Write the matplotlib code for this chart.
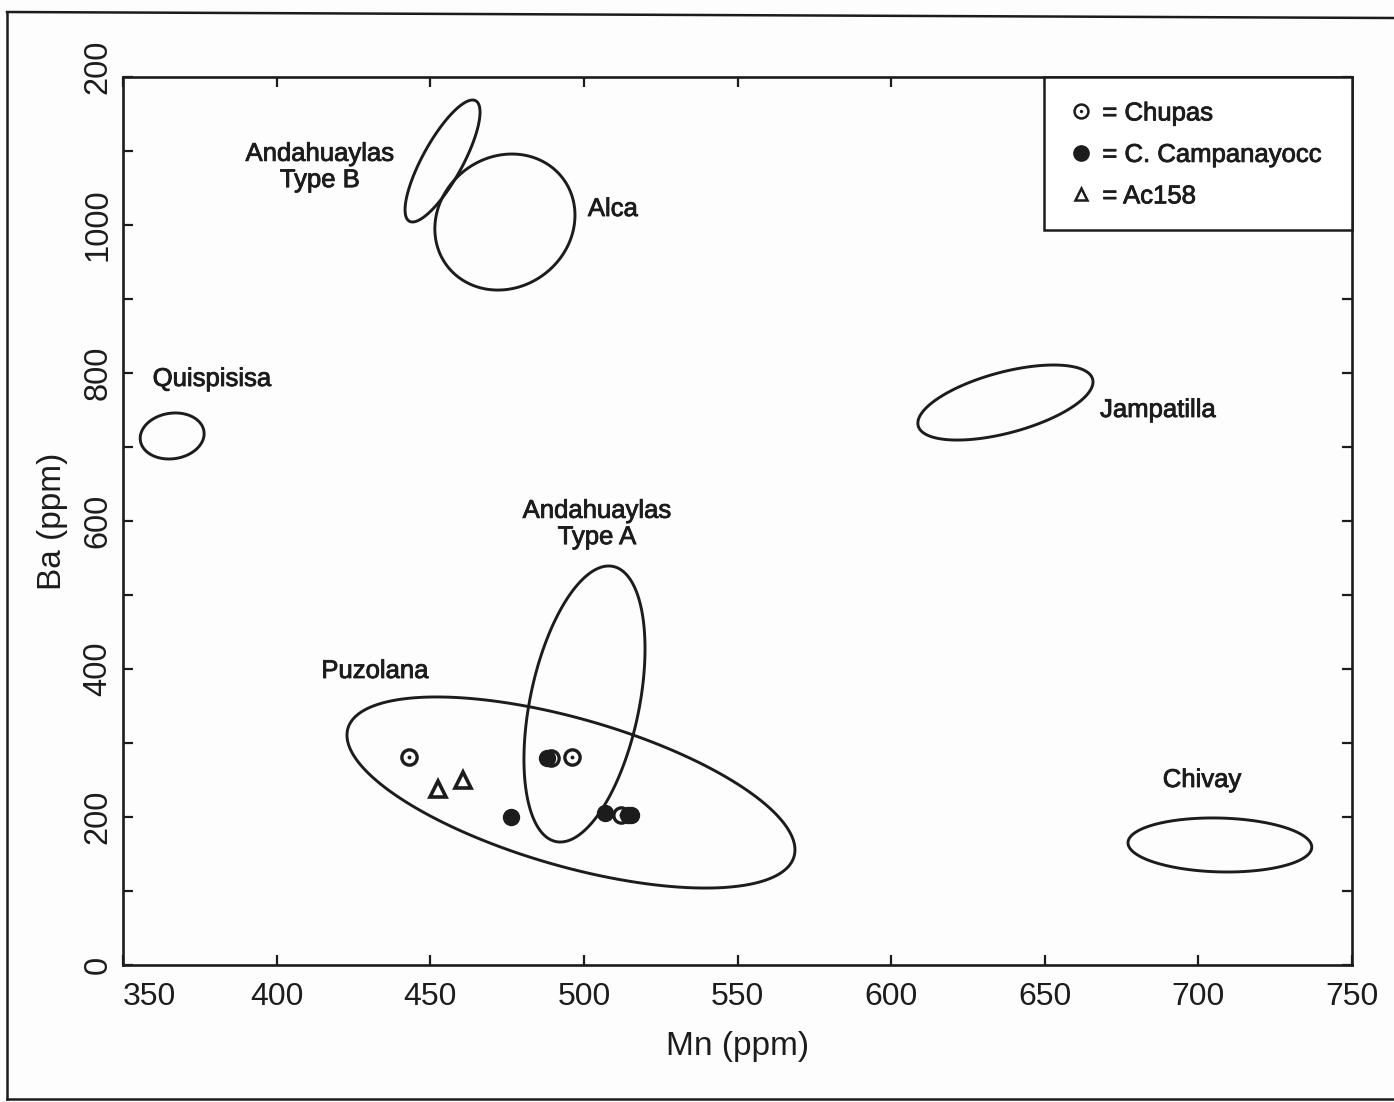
import numpy as np
import matplotlib
matplotlib.use("Agg")
import matplotlib.pyplot as plt
from matplotlib.lines import Line2D
from matplotlib.patches import Rectangle, Polygon
from matplotlib.legend_handler import HandlerTuple
import matplotlib.transforms as mtransforms
import matplotlib.patheffects as pe

plt.rcParams['font.family'] = ['Liberation Sans', 'DejaVu Sans']

INK = '#1c1c1c'
BOLDEN = [pe.withStroke(linewidth=0.6, foreground=INK)]

# Sample analyses (Mn ppm, Ba ppm)
chupas_mn = [443.1, 489.3, 496.1, 512.1]
chupas_ba = [281.5, 280.0, 281.0, 202.7]

campanayocc_mn = [488.0, 476.3, 506.9, 514.4, 515.2]
campanayocc_ba = [280.0, 200.0, 205.4, 202.7, 202.7]

ac158_mn = [452.4, 460.8]
ac158_ba = [237.4, 250.0]

# Source fields: centre, half-ranges and Mn-Ba correlation of each ellipse
field_names = ['Andahuaylas Type B', 'Alca', 'Quispisisa', 'Jampatilla',
               'Chivay', 'Andahuaylas Type A', 'Puzolana']
field_mn = [454.0, 474.3, 366.0, 637.2, 707.0, 500.2, 495.8]
field_ba = [1086.5, 1004.0, 714.9, 760.1, 162.2, 352.7, 233.1]
field_sd_mn = [12.2, 22.8, 10.4, 28.5, 29.9, 19.7, 72.9]
field_sd_ba = [82.4, 91.9, 31.1, 50.7, 36.5, 186.5, 129.1]
field_rho = [0.80, 0.10, 0.10, 0.55, -0.08, 0.40, -0.60]

# Field labels
label_text = ['Andahuaylas\nType B', 'Alca', 'Quispisisa', 'Jampatilla',
              'Chivay', 'Andahuaylas\nType A', 'Puzolana']
label_mn = [414.1, 501.3, 379.0, 668.0, 701.2, 504.3, 432.0]
label_ba = [1078.4, 1021.6, 791.9, 750.0, 250.0, 596.0, 397.3]
label_ha = ['center', 'left', 'center', 'left', 'center', 'center', 'center']

x_ticks = [350, 400, 450, 500, 550, 600, 650, 700, 750]
y_ticks = [0, 200, 400, 600, 800, 1000, 1200]
y_ticklabels = ['0', '200', '400', '600', '800', '1000', '200']

legend_labels = ['= Chupas', '= C. Campanayocc', '= Ac158']

W, H = 1394, 1102
fig = plt.figure(figsize=(W / 100, H / 100), dpi=100)
fig.patch.set_facecolor('#fdfdfd')
ax = fig.add_axes([123 / W, 1 - 965 / H, (1352 - 123) / W, (965 - 77) / H])
ax.set_facecolor('none')

ax.set_xlim(350, 750)
ax.set_ylim(0, 1200)

# Ellipses drawn as closed outlines
t = np.linspace(0, 2 * np.pi, 400, endpoint=False)
for cx, cy, sx, sy, r in zip(field_mn, field_ba, field_sd_mn, field_sd_ba, field_rho):
    ex = cx + sx * np.cos(t)
    ey = cy + sy * (r * np.cos(t) + np.sqrt(1 - r * r) * np.sin(t))
    ax.add_patch(Polygon(np.column_stack([ex, ey]), closed=True, fill=False,
                         edgecolor=INK, lw=2.1, joinstyle='round', zorder=2))

for txt, x, y, ha in zip(label_text, label_mn, label_ba, label_ha):
    ax.text(x, y, txt, ha=ha, va='center', fontsize=18.5, color=INK,
            linespacing=1.12, zorder=3, path_effects=BOLDEN)

# Points
ms = 11
ax.plot(chupas_mn, chupas_ba, ls='none', marker='o', ms=ms, mfc='white',
        mec=INK, mew=2.4, zorder=4)
ax.plot(chupas_mn, chupas_ba, ls='none', marker='o', ms=2.8, mfc=INK,
        mec=INK, mew=0, zorder=4)
ax.plot(campanayocc_mn, campanayocc_ba, ls='none', marker='o', ms=ms + 0.5,
        mfc=INK, mec=INK, zorder=5)
ax.plot(ac158_mn, ac158_ba, ls='none', marker='^', ms=ms, mfc='white',
        mec=INK, mew=2.6, zorder=4)

# Legend box (framed separately so it sits flush with the top-right corner)
box_x0 = (1044 - 123) / (1352 - 123)
box_y0 = (965 - 230) / (965 - 77)
ax.add_patch(Rectangle((box_x0, box_y0), 1 - box_x0, 1 - box_y0,
                       transform=ax.transAxes, facecolor='white',
                       edgecolor=INK, lw=1.8, zorder=6, clip_on=False))

lh_ch = Line2D([], [], ls='none', marker='o', ms=10, mfc='white', mec=INK, mew=1.8)
lh_chd = Line2D([], [], ls='none', marker='o', ms=2.4, mfc=INK, mec=INK, mew=0)
lh_ca = Line2D([], [], ls='none', marker='o', ms=11, mfc=INK, mec=INK)
lh_ac = Line2D([], [], ls='none', marker='^', ms=9, mfc='white', mec=INK, mew=1.8)
leg = ax.legend([(lh_ch, lh_chd), lh_ca, lh_ac], legend_labels,
                handler_map={tuple: HandlerTuple(ndivide=1)},
                loc='upper left', bbox_to_anchor=(box_x0, 1.0),
                borderaxespad=0, frameon=False, fontsize=18.5,
                handlelength=1.0, handletextpad=0.32, labelspacing=0.68,
                borderpad=0.95)
leg.set_zorder(7)
for tx in leg.get_texts():
    tx.set_color(INK)
    tx.set_path_effects(BOLDEN)

# Axes styling
for sp in ax.spines.values():
    sp.set_linewidth(1.9)
    sp.set_color(INK)

ax.set_xticks(x_ticks)
ax.set_xticklabels([str(v) for v in x_ticks])
ax.set_yticks(y_ticks)
ax.set_yticks(np.arange(100, 1200, 200), minor=True)
ax.set_yticklabels(y_ticklabels, rotation=90, va='center')
ax.tick_params(axis='both', which='both', direction='in', top=True, right=True,
               length=7.5, width=1.6, color=INK)
ax.tick_params(axis='x', labelsize=23, pad=12, labelcolor=INK)
ax.tick_params(axis='y', labelsize=23.5, pad=7, labelcolor=INK)

xl = ax.get_xticklabels()
xl[0].set_horizontalalignment('left')

yl = ax.get_yticklabels()
yl[-1].set_transform(yl[-1].get_transform() +
                     mtransforms.ScaledTranslation(0, 0.10, fig.dpi_scale_trans))

ax.set_xlabel('Mn (ppm)', fontsize=24, color=INK, labelpad=14)
ax.set_ylabel('Ba (ppm)', fontsize=24, color=INK, labelpad=10)

# Outer frame
frame_kw = dict(color=INK, lw=1.8, transform=fig.transFigure, clip_on=False)
fig.add_artist(Line2D([7 / W, 7 / W], [1 - 12 / H, 1 - 1099 / H], **frame_kw))
fig.add_artist(Line2D([7 / W, 1.0], [1 - 12 / H, 1 - 18 / H], **frame_kw))
fig.add_artist(Line2D([7 / W, 1.0], [1 - 1099 / H, 1 - 1099 / H], **frame_kw))

fig.savefig('out.png', dpi=100, facecolor=fig.get_facecolor())
